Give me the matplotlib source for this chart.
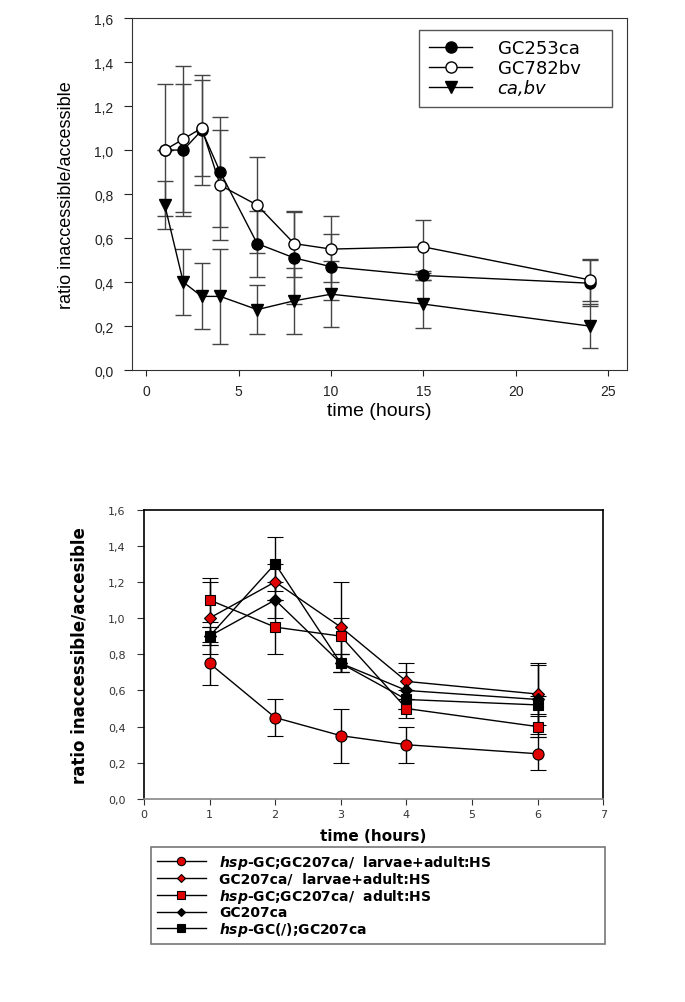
import matplotlib
matplotlib.use('Agg')
import matplotlib.pyplot as plt
from matplotlib.ticker import FuncFormatter, MultipleLocator

plt.rcParams['mathtext.fontset'] = 'custom'
plt.rcParams['mathtext.it'] = 'DejaVu Sans:bold:italic'
plt.rcParams['mathtext.rm'] = 'DejaVu Sans:bold'

# ---- top panel data ----
t_top = [1, 2, 3, 4, 6, 8, 10, 15, 24]
gc253 = [1.0, 1.0, 1.09, 0.9, 0.575, 0.51, 0.47, 0.43, 0.395]
gc253_err = [0.0, 0.3, 0.25, 0.25, 0.15, 0.21, 0.15, 0.02, 0.105]
gc782 = [1.0, 1.05, 1.10, 0.84, 0.75, 0.575, 0.55, 0.56, 0.41]
gc782_err = [0.3, 0.33, 0.22, 0.25, 0.22, 0.15, 0.15, 0.12, 0.095]
cabv = [0.75, 0.40, 0.335, 0.335, 0.275, 0.315, 0.345, 0.30, 0.20]
cabv_err = [0.11, 0.15, 0.15, 0.215, 0.11, 0.15, 0.15, 0.11, 0.10]
top_labels = ['GC253ca', 'GC782bv', 'ca,bv']

# ---- bottom panel data ----
t_bot = [1, 2, 3, 4, 6]
s_circle = [0.75, 0.45, 0.35, 0.30, 0.25]
s_circle_err = [0.12, 0.10, 0.15, 0.10, 0.09]
s_rdiam = [1.0, 1.2, 0.95, 0.65, 0.58]
s_rdiam_err = [0.2, 0.1, 0.25, 0.10, 0.17]
s_rsq = [1.1, 0.95, 0.9, 0.5, 0.4]
s_rsq_err = [0.12, 0.15, 0.1, 0.05, 0.06]
s_bdiam = [0.9, 1.1, 0.75, 0.6, 0.55]
s_bdiam_err = [0.05, 0.1, 0.05, 0.1, 0.19]
s_bsq = [0.9, 1.3, 0.75, 0.55, 0.52]
s_bsq_err = [0.05, 0.15, 0.05, 0.05, 0.05]
bot_labels = [r'$\mathit{hsp}$-GC;GC207ca/  larvae+adult:HS',
              'GC207ca/  larvae+adult:HS',
              r'$\mathit{hsp}$-GC;GC207ca/  adult:HS',
              'GC207ca',
              r'$\mathit{hsp}$-GC(/);GC207ca']

comma = FuncFormatter(lambda v, p: f'{v:.1f}'.replace('.', ','))
RED = '#e00000'

fig = plt.figure(figsize=(6.85, 10.03), dpi=100)

# ================= top chart =================
ax1 = fig.add_axes([0.192, 0.630, 0.723, 0.351])
eb = dict(capsize=6, ecolor='#444444', elinewidth=1, capthick=1, lw=1, color='black', ms=8)
c1 = ax1.errorbar(t_top, gc253, yerr=gc253_err, fmt='-o', mfc='black', mec='black', **eb)
c2 = ax1.errorbar(t_top, gc782, yerr=gc782_err, fmt='-o', mfc='white', mec='black', **eb)
c3 = ax1.errorbar(t_top, cabv, yerr=cabv_err, fmt='-v', mfc='black', mec='black', **eb)
ax1.set_xlim(-0.8, 26)
ax1.set_ylim(0, 1.6)
ax1.xaxis.set_major_locator(MultipleLocator(5))
ax1.yaxis.set_major_locator(MultipleLocator(0.2))
ax1.yaxis.set_major_formatter(comma)
for s in ax1.spines.values():
    s.set_color('#333333')
ax1.tick_params(axis='y', length=6, pad=7, labelsize=10, colors='#222222')
ax1.tick_params(axis='x', length=4, pad=6, labelsize=10, colors='#222222')
for lab in ax1.get_xticklabels() + ax1.get_yticklabels():
    lab.set_family('Liberation Sans')
ax1.set_xlabel('time (hours)', fontsize=14, family='Liberation Sans', labelpad=3)
ax1.set_ylabel('ratio inaccessible/accessible', fontsize=13, family='Liberation Sans', labelpad=14)
leg1 = ax1.legend([c1[0], c2[0], c3[0]], top_labels, loc='upper left',
                  bbox_to_anchor=(0.5806, 0.7563, 0.389, 0.211), mode='expand',
                  borderaxespad=0, fancybox=False, edgecolor='#555555', framealpha=1,
                  prop={'family': 'DejaVu Sans', 'size': 13}, handlelength=2.4,
                  handletextpad=1.4, labelspacing=0.1, borderpad=0.55)
leg1.get_frame().set_linewidth(1.0)
leg1.get_texts()[2].set_fontstyle('italic')

# ================= bottom chart =================
ax2 = fig.add_axes([0.210, 0.2024, 0.671, 0.2886])
eb2 = dict(capsize=6, ecolor='black', elinewidth=1, capthick=1, lw=1, color='black', mec='black', mew=0.8)
d1 = ax2.errorbar(t_bot, s_circle, yerr=s_circle_err, fmt='-o', mfc=RED, ms=8, **eb2)
d2 = ax2.errorbar(t_bot, s_rdiam, yerr=s_rdiam_err, fmt='-D', mfc=RED, ms=6, **eb2)
d3 = ax2.errorbar(t_bot, s_rsq, yerr=s_rsq_err, fmt='-s', mfc=RED, ms=7, **eb2)
d4 = ax2.errorbar(t_bot, s_bdiam, yerr=s_bdiam_err, fmt='-D', mfc='black', ms=6, **eb2)
d5 = ax2.errorbar(t_bot, s_bsq, yerr=s_bsq_err, fmt='-s', mfc='black', ms=7, **eb2)
ax2.set_xlim(0, 7)
ax2.set_ylim(0, 1.6)
ax2.xaxis.set_major_locator(MultipleLocator(1))
ax2.yaxis.set_major_locator(MultipleLocator(0.2))
ax2.yaxis.set_major_formatter(comma)
for s in ax2.spines.values():
    s.set_color('black')
    s.set_linewidth(1.2)
ax2.spines['bottom'].set_color('#888888')
ax2.tick_params(axis='y', length=5, pad=8, labelsize=8, colors='#333333')
ax2.tick_params(axis='x', length=4, pad=3, labelsize=8, colors='#333333')
ax2.set_xlabel('time (hours)', fontsize=11, fontweight='bold', family='DejaVu Sans', labelpad=7)
ax2.set_ylabel('ratio inaccessible/accesible', fontsize=12, fontweight='bold', family='DejaVu Sans', labelpad=14)

leg2 = fig.legend([d[0] for d in (d1, d2, d3, d4, d5)], bot_labels, loc='upper left',
                  bbox_to_anchor=(0.22, 0.0568, 0.663, 0.0977), mode='expand',
                  borderaxespad=0, fancybox=False, edgecolor='#777777', framealpha=1,
                  prop={'family': 'DejaVu Sans', 'weight': 'bold', 'size': 10}, handlelength=3.5,
                  handletextpad=1.0, labelspacing=0.05, borderpad=0.45, markerscale=0.75)
leg2.get_frame().set_linewidth(1.2)

fig.savefig('out.png', dpi=100)
